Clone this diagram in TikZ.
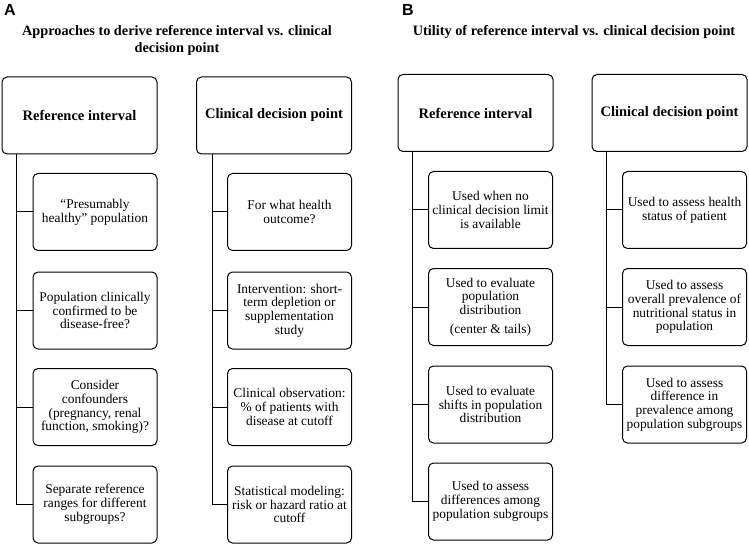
\documentclass[tikz,border=0pt]{standalone}
\usepackage{fontspec}
\setmainfont{Liberation Serif}
\newfontfamily\panelfont{Liberation Sans}

\tikzset{
  hbox/.style={draw,line width=1pt,rounded corners=5pt,minimum width=155pt,minimum height=77pt,
               inner sep=0pt,font=\fontsize{14.5}{17}\selectfont\bfseries},
  cbox/.style={draw,line width=1pt,rounded corners=5pt,minimum width=124pt,minimum height=77pt,
               inner sep=0pt,align=center,font=\fontsize{13.4}{13.8}\selectfont},
  branch/.style={line width=1pt},
  ttl/.style={align=center,font=\fontsize{14.3}{17}\selectfont\bfseries},
  panel/.style={anchor=north west,inner sep=0pt,font=\fontsize{16}{16}\selectfont\panelfont\bfseries}
}

\begin{document}
\begin{tikzpicture}[x=1pt,y=-1pt]
\useasboundingbox (0,0) rectangle (749,545);

%% panel A
\node[panel] (labA) at (4,4) {A};
\node[ttl] (ttlA) at (177,40.5) {Approaches to derive reference interval vs. clinical\\decision point};
\node[hbox] (riA) at (79.5,115.5) {Reference interval};
\node[hbox] (cdA) at (274,115.5) {Clinical decision point};
\foreach \name/\y/\txt in {
    riA1/212/{``Presumably\\healthy'' population},
    riA2/310.5/{Population clinically\\confirmed to be\\disease-free?},
    riA3/407/{Consider\\confounders\\(pregnancy, renal\\function, smoking)?},
    riA4/504.5/{Separate reference\\ranges for different\\subgroups?}}
  \node[cbox] (\name) at (95,\y) {\txt};
\foreach \name/\y/\txt in {
    cdA1/212/{For what health\\outcome?},
    cdA2/310.5/{Intervention: short-\\term depletion or\\supplementation\\study},
    cdA3/407/{Clinical observation:\\\% of patients with\\disease at cutoff},
    cdA4/504.5/{Statistical modeling:\\risk or hazard ratio at\\cutoff}}
  \node[cbox] (\name) at (289.5,\y) {\txt};
\foreach \name in {riA1,riA2,riA3,riA4}
  \draw[branch] ([xshift=15pt]riA.south west) |- (\name.west);
\foreach \name in {cdA1,cdA2,cdA3,cdA4}
  \draw[branch] ([xshift=16pt]cdA.south west) |- (\name.west);

%% panel B
\node[panel] (labB) at (402,4) {B};
\node[ttl] (ttlB) at (574,32) {Utility of reference interval vs. clinical decision point};
\node[hbox] (riB) at (475.5,113) {Reference interval};
\node[hbox] (cdB) at (669.5,113) {Clinical decision point};
\foreach \name/\y/\txt in {
    riB1/210/{Used when no\\clinical decision limit\\is available},
    riB2/307/{Used to evaluate\\population\\distribution\\[5pt](center \& tails)},
    riB3/404.5/{Used to evaluate\\shifts in population\\distribution},
    riB4/501.5/{Used to assess\\differences among\\population subgroups}}
  \node[cbox] (\name) at (490.5,\y) {\txt};
\foreach \name/\y/\txt in {
    cdB1/210/{Used to assess health\\status of patient},
    cdB2/307/{Used to assess\\overall prevalence of\\nutritional status in\\population},
    cdB3/404.5/{Used to assess\\difference in\\prevalence among\\population subgroups}}
  \node[cbox] (\name) at (684.5,\y) {\txt};
\foreach \name in {riB1,riB2,riB3,riB4}
  \draw[branch] ([xshift=15pt]riB.south west) |- (\name.west);
\foreach \name in {cdB1,cdB2,cdB3}
  \draw[branch] ([xshift=15pt]cdB.south west) |- (\name.west);
\end{tikzpicture}
\end{document}
